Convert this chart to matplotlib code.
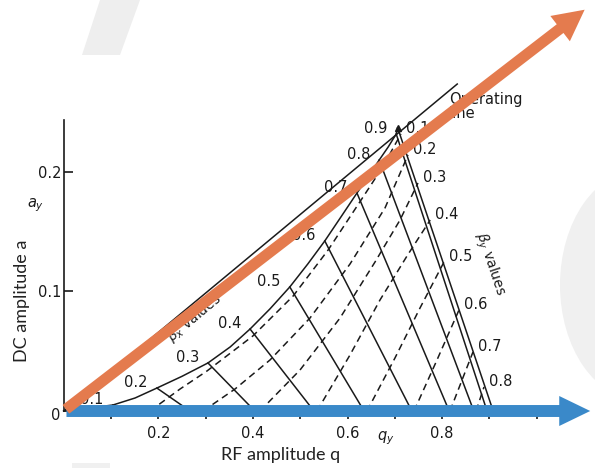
import matplotlib.pyplot as plt
from matplotlib.patches import FancyArrowPatch, ArrowStyle, Ellipse, Polygon, Rectangle

# Stability diagram: beta_y = 0 boundary curve, origin to apex
boundary_q = [0.0, 0.104, 0.151, 0.197, 0.250, 0.305, 0.352, 0.394, 0.436, 0.478,
              0.516, 0.552, 0.586, 0.620, 0.643, 0.667, 0.686, 0.703, 0.706]
boundary_a = [0.0, 0.0050, 0.0109, 0.0192, 0.0290, 0.0402, 0.0536, 0.0686, 0.0854, 0.1038,
              0.1230, 0.1423, 0.1623, 0.1824, 0.1958, 0.2100, 0.2209, 0.2318, 0.2370]

# iso-beta_x lines: start on the boundary curve, end on the q axis
beta_x_labels = ['0.1', '0.2', '0.3', '0.4', '0.5', '0.6', '0.7', '0.8', '0.9', '']
beta_x_top_q = [0.104, 0.197, 0.305, 0.394, 0.478, 0.552, 0.620, 0.667, 0.703, 0.706]
beta_x_top_a = [0.0050, 0.0192, 0.0402, 0.0686, 0.1038, 0.1423, 0.1824, 0.2100, 0.2318, 0.2370]
beta_x_axis_q = [0.119, 0.267, 0.404, 0.529, 0.635, 0.736, 0.815, 0.867, 0.895, 0.908]

# iso-beta_y lines (dashed): from the q axis up to the right boundary
beta_y_labels = ['0.1', '0.2', '0.3', '0.4', '0.5', '0.6', '0.7', '0.8']
beta_y_q = [
    [0.1825, 0.246, 0.303, 0.400, 0.485, 0.559, 0.626, 0.673, 0.713],
    [0.2947, 0.3622, 0.4362, 0.5207, 0.6053, 0.6793, 0.7279],
    [0.415, 0.4996, 0.5842, 0.6582, 0.7110, 0.7490],
    [0.5355, 0.6053, 0.6687, 0.7258, 0.7748],
    [0.6412, 0.7004, 0.7533, 0.8040],
    [0.7406, 0.7892, 0.8357],
    [0.8167, 0.8421, 0.8653],
    [0.8717, 0.8886],
]
beta_y_a = [
    [0.0, 0.0184, 0.0335, 0.0628, 0.0962, 0.1347, 0.1749, 0.2033, 0.2318],
    [0.0, 0.0184, 0.0427, 0.0778, 0.1230, 0.1699, 0.2142],
    [0.0, 0.0343, 0.0778, 0.1247, 0.1598, 0.1908],
    [0.0, 0.0469, 0.0929, 0.1297, 0.1598],
    [0.0, 0.0444, 0.0862, 0.1247],
    [0.0, 0.0427, 0.0845],
    [0.0, 0.0259, 0.0494],
    [0.0, 0.0201],
]

# operating line a/q
operating_q = [0.0, 0.832]
operating_a = [0.0, 0.2736]

x_ticks = [0.1, 0.2, 0.3, 0.4, 0.5, 0.6, 0.7, 0.8, 0.9, 1.0]
x_ticklabels = ['', '0.2', '', '0.4', '', '0.6', '', '0.8', '', '']
y_ticks = [0.1, 0.2]
y_ticklabels = ['0.1', '0.2']

ink = '#1a1a1a'
orange = '#E47B4E'
blue = '#3A89C9'

fig = plt.figure(figsize=(5.95, 4.68), dpi=100)

# faint slide decorations behind the chart
bg = fig.add_axes([0, 0, 1, 1], zorder=0)
bg.set_xlim(0, 595)
bg.set_ylim(468, 0)
bg.axis('off')
bg.add_patch(Polygon([(100, 0), (140, 0), (120, 55), (82, 55)], closed=True,
                     facecolor='#EEEEEE', edgecolor='none'))
bg.add_patch(Ellipse((640, 285), 160, 230, facecolor='#F0F0F0', edgecolor='none'))
bg.add_patch(Rectangle((72, 463), 38, 5, facecolor='#F0F0F0', edgecolor='none'))

ax = fig.add_axes([63.7 / 595, (468 - 411) / 468, 473 / 595, 291 / 468], zorder=1)
ax.set_facecolor('none')
ax.set_xlim(0, 1.0)
ax.set_ylim(0, 0.2435)
for side in ['top', 'right']:
    ax.spines[side].set_visible(False)
for side in ['left', 'bottom']:
    ax.spines[side].set_linewidth(1.2)
    ax.spines[side].set_color(ink)

ax.set_xticks(x_ticks)
ax.set_xticklabels(x_ticklabels)
ax.set_yticks(y_ticks)
ax.set_yticklabels(y_ticklabels)
ax.tick_params(axis='x', direction='out', length=6, width=1.2, pad=4.5,
               labelsize=10.5, colors=ink)
ax.tick_params(axis='y', direction='in', length=6.5, width=1.2, pad=1.5,
               labelsize=10.5, colors=ink)
ax.annotate('0', (0, 0), xytext=(-6, -3), textcoords='offset points',
            ha='center', va='center', fontsize=10.5, color=ink, annotation_clip=False)

line_kw = dict(color=ink, lw=1.1, clip_on=False, zorder=2)

# boundary curve and operating line
ax.plot(boundary_q, boundary_a, **line_kw)
ax.plot(operating_q, operating_a, **line_kw)

# iso-beta_x (solid)
for lab, q0, a0, q1 in zip(beta_x_labels, beta_x_top_q, beta_x_top_a, beta_x_axis_q):
    ax.plot([q0, q1], [a0, 0.0], **line_kw)
    if lab:
        ax.annotate(lab, (q0, a0), xytext=(-15, 4), textcoords='offset points',
                    ha='center', va='center', fontsize=10.5, color=ink,
                    annotation_clip=False, zorder=3)

# iso-beta_y (dashed)
for lab, qs, as_ in zip(beta_y_labels, beta_y_q, beta_y_a):
    ax.plot(qs, as_, color=ink, lw=1.1, ls=(0, (4.5, 3)), clip_on=False, zorder=2)
    ax.annotate(lab, (qs[-1], as_[-1]), xytext=(12, 4), textcoords='offset points',
                ha='center', va='center', fontsize=10.5, color=ink,
                annotation_clip=False, zorder=3)

ax.plot([boundary_q[-1]], [boundary_a[-1]], marker='^', ms=5, color=ink,
        clip_on=False, zorder=3)

ax.text(0.8147, 0.2669, 'Operating\nline', ha='left', va='top', fontsize=10.5,
        color=ink, linespacing=0.95)
ax.text(0.277, 0.0778, r'$\beta_x$ values', rotation=40, rotation_mode='anchor',
        ha='center', va='center', fontsize=10, color=ink)
ax.text(0.900, 0.123, r'$\beta_y$ values', rotation=-71.6, rotation_mode='anchor',
        ha='center', va='center', fontsize=10, color=ink)
ax.text(-0.0586, 0.1724, r'$a_y$', ha='center', va='center', fontsize=10.5, color=ink)
ax.text(0.680, -0.0226, r'$q_y$', ha='center', va='center', fontsize=10.5, color=ink)

# overlay arrows along the q axis and the operating direction
blue_arrow = FancyArrowPatch((0.0, 0.0), (1.119, 0.0),
                             arrowstyle=ArrowStyle.Simple(head_length=2.23, head_width=2.16,
                                                          tail_width=0.86),
                             mutation_scale=10, color=blue, lw=0, clip_on=False, zorder=5)
ax.add_patch(blue_arrow)
orange_arrow = FancyArrowPatch((0.0, 0.0), (1.106, 0.3372),
                               arrowstyle=ArrowStyle.Simple(head_length=2.23, head_width=2.3,
                                                            tail_width=0.79),
                               mutation_scale=10, color=orange, lw=0, clip_on=False, zorder=6)
ax.add_patch(orange_arrow)

fig.text(22 / 595, 1 - 301 / 468, 'DC amplitude a', rotation=90, ha='center', va='center',
         fontsize=13, family='Lato', color='#222222')
fig.text(281 / 595, 1 - 455 / 468, 'RF amplitude q', ha='center', va='center',
         fontsize=13, family='Lato', color='#222222')

fig.savefig('out.png', dpi=100)
